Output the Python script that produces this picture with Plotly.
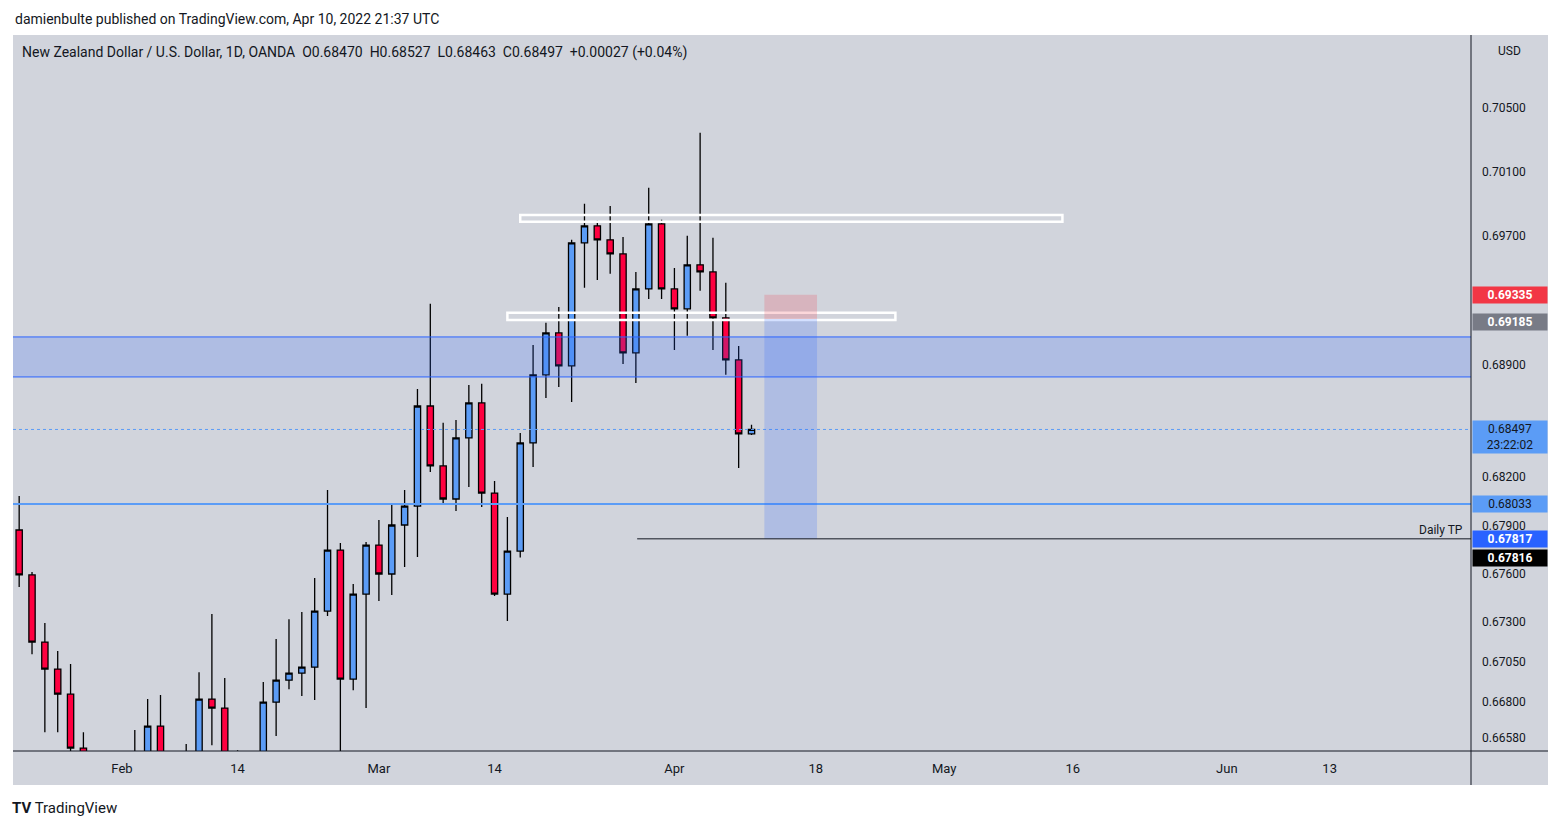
import plotly.graph_objects as go

idx = list(range(-8, 50))
opens = [.67871,.67591,.67173,.67005,.66849,.66513,.66438,.66350,.66300,.66400,.66480,.66650,.66450,.66350,.66420,.66818,.66762,.66450,.66380,
         .66420,.66799,.66936,.66980,.67017,.67366,.67746,.66943,.67472,.67777,.67597,.67902,.68020,.68643,.68270,.68064,.68444,.68662,.68101,
         .67472,.67740,.68413,.68837,.69098,.68893,.69659,.69765,.69678,.69590,.68974,.69372,.69777,.69372,.69248,.69522,.69478,.69192,.68930,.68470]
highs = [.68083,.67609,.67292,.67117,.67036,.66612,.66450,.66480,.66470,.66625,.66818,.66843,.66480,.66538,.66986,.67348,.66949,.66500,.66470,
         .66924,.67192,.67316,.67360,.67572,.68120,.67790,.67535,.67796,.67933,.68027,.68120,.68749,.69279,.68538,.68556,.68774,.68781,.68176,
         .67952,.68475,.69023,.69161,.69260,.69678,.69902,.69796,.69889,.69696,.69478,.70002,.69802,.69503,.69703,.70344,.69690,.69410,.69017,.68527]
lows = [.67516,.67098,.66612,.66612,.66407,.66345,.66250,.66200,.66180,.66300,.66400,.66380,.66250,.66250,.66380,.66531,.66400,.66300,.66250,
        .66350,.66588,.66880,.66837,.66812,.67335,.66438,.66874,.66762,.67429,.67466,.67640,.67703,.68232,.68027,.67989,.68139,.68014,.67460,
        .67304,.67700,.68263,.68693,.68762,.68668,.69379,.69428,.69466,.68905,.68787,.69310,.69310,.68992,.69080,.69360,.68992,.68837,.68257,.68463]
closes = [.67591,.67173,.67005,.66849,.66513,.66438,.66350,.66300,.66400,.66480,.66650,.66450,.66350,.66420,.66818,.66762,.66450,.66380,.66420,
          .66799,.66936,.66980,.67017,.67366,.67746,.66943,.67472,.67777,.67597,.67902,.68020,.68643,.68270,.68064,.68444,.68662,.68101,.67472,
          .67740,.68413,.68837,.69098,.68893,.69659,.69765,.69678,.69590,.68974,.69372,.69777,.69372,.69248,.69522,.69478,.69192,.68930,.68470,.68497]

x_tick_idx = [0, 9, 20, 29, 43, 54, 64, 74, 86, 94]
x_tick_text = ["Feb", "14", "Mar", "14", "Apr", "18", "May", "16", "Jun", "13"]
y_ticks = [0.70500, 0.70100, 0.69700, 0.68900, 0.68200, 0.67900, 0.67600, 0.67300, 0.67050, 0.66800, 0.66580]

zone_top, zone_bot = 0.69073, 0.68824
support = 0.68033
last_price = 0.68497
stop, entry, target, tp_line = 0.69335, 0.69185, 0.67817, 0.67816
rect1 = (31.0, 73.2, 0.69790, 0.69833)
rect2 = (30.0, 60.2, 0.69179, 0.69223)
pos_x = (50.0, 54.1)
tp_start = 40.1

BG = "#d1d4dc"
fig = go.Figure()
fig.add_trace(go.Candlestick(x=idx, open=opens, high=highs, low=lows, close=closes,
    increasing=dict(fillcolor="#5b9cf6", line=dict(color="black", width=1.3)),
    decreasing=dict(fillcolor="#ff0040", line=dict(color="black", width=1.3)),
    whiskerwidth=0, showlegend=False, hoverinfo="skip"))

shapes = [
    dict(type="rect", xref="paper", yref="paper", x0=0, x1=1.0528, y0=-0.0475, y1=1, fillcolor=BG, line=dict(width=0), layer="below"),
    dict(type="rect", xref="paper", yref="y", x0=0, x1=1, y0=zone_bot, y1=zone_top, fillcolor="rgba(41,98,255,0.2)", line=dict(width=0)),
    dict(type="line", xref="paper", yref="y", x0=0, x1=1, y0=zone_top, y1=zone_top, line=dict(color="#2962ff", width=1)),
    dict(type="line", xref="paper", yref="y", x0=0, x1=1, y0=zone_bot, y1=zone_bot, line=dict(color="#2962ff", width=1)),
    dict(type="line", xref="paper", yref="y", x0=0, x1=1, y0=support, y1=support, line=dict(color="#5b9cf6", width=2)),
    dict(type="line", xref="paper", yref="y", x0=0, x1=1, y0=last_price, y1=last_price, line=dict(color="#5b9cf6", width=1, dash="dot")),
    dict(type="rect", x0=rect1[0], x1=rect1[1], y0=rect1[2], y1=rect1[3], line=dict(color="white", width=2.5)),
    dict(type="rect", x0=rect2[0], x1=rect2[1], y0=rect2[2], y1=rect2[3], line=dict(color="white", width=2.5)),
    dict(type="rect", x0=pos_x[0], x1=pos_x[1], y0=entry, y1=stop, fillcolor="rgba(242,54,69,0.2)", line=dict(width=0)),
    dict(type="rect", x0=pos_x[0], x1=pos_x[1], y0=target, y1=entry, fillcolor="rgba(41,98,255,0.2)", line=dict(width=0)),
    dict(type="line", x0=tp_start, x1=105, y0=tp_line, y1=tp_line, line=dict(color="#131722", width=1)),
    dict(type="line", xref="paper", yref="paper", x0=1, x1=1, y0=-0.0475, y1=1, line=dict(color="#131722", width=1)),
    dict(type="line", xref="paper", yref="paper", x0=0, x1=1.0528, y0=0, y1=0, line=dict(color="#131722", width=1)),
]

ann = []
def tag(y, text, bg, fc="white", yshift=0):
    ann.append(dict(xref="paper", yref="y", x=1.0005, y=y, text=text, showarrow=False, xanchor="left",
                    bgcolor=bg, font=dict(color=fc, size=12, family="Roboto"), width=72, align="center", yshift=yshift, borderpad=1))
tag(stop, "<b>0.69335</b>", "#f23645")
tag(entry, "<b>0.69185</b>", "#787b86", yshift=-3)
ann.append(dict(xref="paper", yref="y", x=1.0005, y=last_price, text="0.68497<br>23:22:02", showarrow=False, xanchor="left", yanchor="middle",
                bgcolor="#5b9cf6", font=dict(color="#131722", size=12, family="Roboto"), width=72, align="center", yshift=-8))
tag(support, "0.68033", "#5b9cf6", fc="#131722")
tag(target, "<b>0.67817</b>", "#2962ff")
tag(tp_line, "<b>0.67816</b>", "#000000", yshift=-19)
ann.append(dict(x=105, y=tp_line, text="Daily TP", showarrow=False, xanchor="right", yanchor="bottom", xshift=-6,
                font=dict(color="#131722", size=12, family="Roboto")))
ann.append(dict(xref="paper", yref="paper", x=1.0265, y=0.99, text="USD", showarrow=False, xanchor="center", yanchor="top",
                font=dict(color="#131722", size=12, family="Roboto")))
ann.append(dict(xref="paper", yref="paper", x=0.005, y=0.99, showarrow=False, xanchor="left", yanchor="top",
                text="New Zealand Dollar / U.S. Dollar, 1D, OANDA  O0.68470  H0.68527  L0.68463  C0.68497  +0.00027 (+0.04%)",
                font=dict(color="#131722", size=14, family="Roboto")))
ann.append(dict(xref="paper", yref="paper", x=0.0, y=1.022, showarrow=False, xanchor="left", yanchor="middle",
                text="damienbulte published on TradingView.com, Apr 10, 2022 21:37 UTC", font=dict(color="#131722", size=14, family="Roboto")))
ann.append(dict(xref="paper", yref="paper", x=-0.002, y=-0.08, showarrow=False, xanchor="left", yanchor="middle",
                text="<b>TV</b> TradingView", font=dict(color="#131722", size=15, family="Roboto")))

fig.update_layout(
    width=1545, height=814, margin=dict(l=5, r=82, t=27, b=71),
    paper_bgcolor="white", plot_bgcolor=BG, shapes=shapes, annotations=ann,
    xaxis=dict(range=[-8.48, 105], tickvals=x_tick_idx, ticktext=x_tick_text, showgrid=False, zeroline=False,
               rangeslider=dict(visible=False), ticks="", ticklabelstandoff=8,
               tickfont=dict(size=13, color="#131722", family="Roboto")),
    yaxis=dict(range=[0.66495, 0.70953], side="right", tickvals=y_ticks, ticktext=[f"{v:.5f}" for v in y_ticks],
               showgrid=False, zeroline=False, ticks="", ticklabelstandoff=10,
               tickfont=dict(size=12, color="#131722", family="Roboto")),
    font=dict(family="Roboto"),
)
fig.write_html("out.html")
